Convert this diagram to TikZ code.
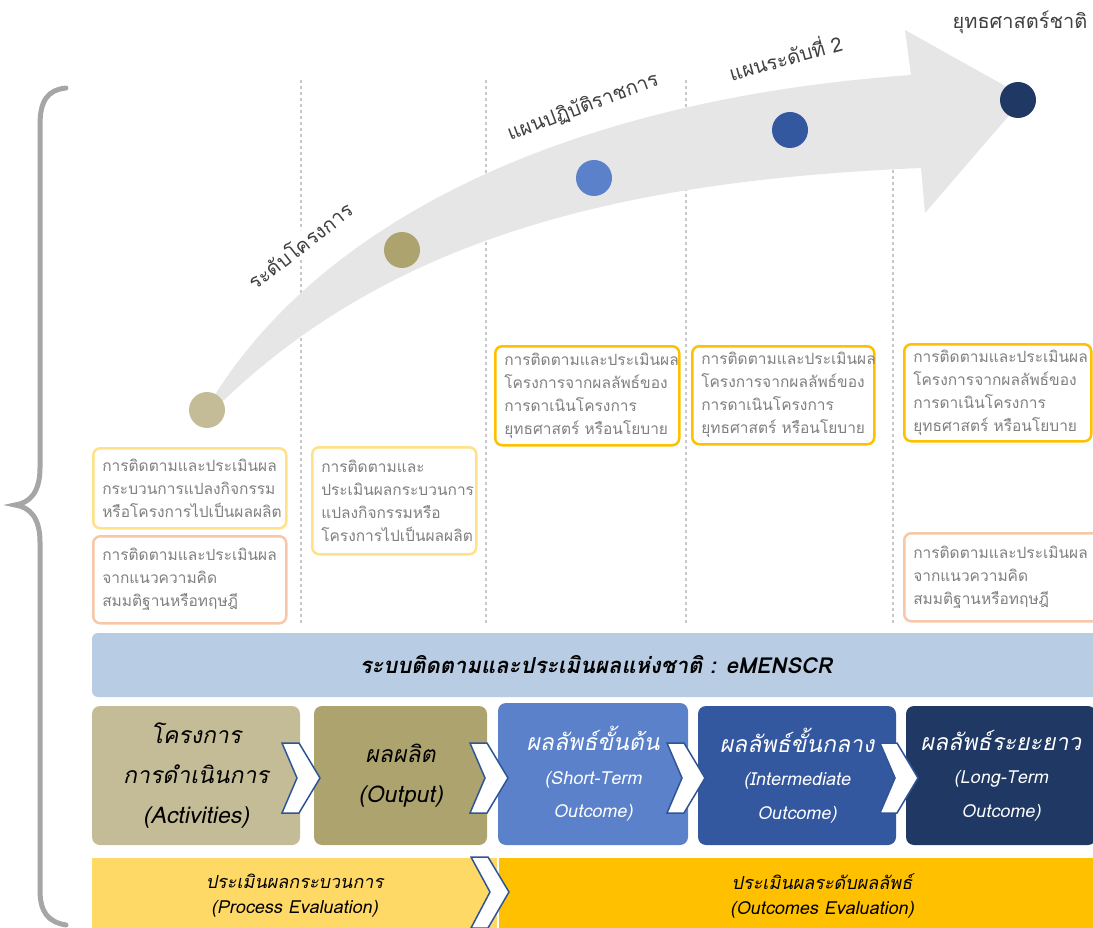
\documentclass[tikz,border=0pt]{standalone}
\usepackage{fontspec}
\newfontfamily\thaifont[Script=Thai]{Loma}
\newfontfamily\thaislant[Script=Thai,FakeSlant=0.2]{Loma}
\newcommand\engline{\fontsize{18}{22}\selectfont}

\definecolor{actkhaki}{HTML}{C4BC96}
\definecolor{outolive}{HTML}{ADA36E}
\definecolor{shortblue}{HTML}{5A81CA}
\definecolor{midblue}{HTML}{3358A0}
\definecolor{longblue}{HTML}{1F3864}
\definecolor{barblue}{HTML}{B8CCE4}
\definecolor{procyellow}{HTML}{FFD966}
\definecolor{outcyellow}{HTML}{FFC000}
\definecolor{paleyellow}{HTML}{FFE18A}
\definecolor{salmon}{HTML}{F7C7A8}
\definecolor{arrowgray}{HTML}{E6E6E6}
\definecolor{guidegray}{HTML}{C8C8C8}
\definecolor{bracegray}{HTML}{A6A6A6}
\definecolor{notegray}{HTML}{808080}
\definecolor{chevblue}{HTML}{2F5597}
\definecolor{lblgray}{HTML}{404040}

\begin{document}
\begin{tikzpicture}[x=1pt, y=-1pt,
  notebox/.style={draw, line width=2.5pt, rounded corners=7pt, fill=white, text=notegray,
    align=left, anchor=north west, inner xsep=9pt, font=\thaifont\fontsize{15.5}{23}\selectfont},
  stagebox/.style={rounded corners=8pt, minimum height=139pt, align=center,
    font=\thaislant\fontsize{23}{40}\selectfont},
  outcomebox/.style={stagebox, text=white, font=\thaislant\fontsize{23}{33.5}\selectfont},
  evalbar/.style={minimum height=76pt, align=center, font=\thaislant\fontsize{18}{25}\selectfont},
  milestone/.style={circle, minimum size=36pt, inner sep=0pt},
  levellabel/.style={fill=white, text=lblgray, inner sep=2pt, font=\thaifont\fontsize{20}{24}\selectfont},
  chev/.style={draw=chevblue, fill=white, line width=1.5pt, line join=miter}]
  \useasboundingbox (0,0) rectangle (1093,928);

  % dotted guide lines
  \foreach \gx in {301,486,686,893}
    \draw[guidegray, line width=1.5pt, dash pattern=on 3pt off 3pt] (\gx,80) -- (\gx,625);

  % big curved arrow
  \fill[arrowgray] (213,398) .. controls (320,225) and (560,100) .. (911,75) -- (905,30)
    -- (1025,97) -- (925,213) -- (921,168) .. controls (640,180) and (400,230) .. (221,403) -- cycle;

  % level labels
  \node[levellabel, rotate=38] (projlevel) at (300,245) {ระดับโครงการ};
  \node[levellabel, rotate=20.5] (planlevel) at (583,107) {แผนปฏิบัติราชการ};
  \node[levellabel, rotate=15.5] (secondlevel) at (785,56) {แผนระดับที่ 2};
  \node[levellabel, fill=none] (national) at (1020,22) {ยุทธศาสตร์ชาติ};

  % milestones
  \node[milestone, fill=actkhaki] (lvl1) at (207,410) {};
  \node[milestone, fill=outolive] (lvl2) at (402,250) {};
  \node[milestone, fill=shortblue] (lvl3) at (594,178) {};
  \node[milestone, fill=midblue] (lvl4) at (790,130) {};
  \node[milestone, fill=longblue] (lvl5) at (1018,100) {};

  % monitoring notes
  \node[notebox, draw=paleyellow, text width=175pt, minimum height=80pt] (procnote) at (92,447)
    {การติดตามและประเมินผล\\กระบวนการแปลงกิจกรรม\\หรือโครงการไปเป็นผลผลิต};
  \node[notebox, draw=salmon, text width=175pt, minimum height=87pt] (theorynote) at (92,535)
    {การติดตามและประเมินผล\\จากแนวความคิด\\สมมติฐานหรือทฤษฎี};
  \node[notebox, draw=paleyellow, text width=146pt, minimum height=107pt] (outputnote) at (311,446)
    {การติดตามและ\\ประเมินผลกระบวนการ\\แปลงกิจกรรมหรือ\\โครงการไปเป็นผลผลิต};
  \node[notebox, draw=outcyellow, text width=166pt, minimum height=99pt] (shortnote) at (494,345)
    {การติดตามและประเมินผล\\โครงการจากผลลัพธ์ของ\\การดาเนินโครงการ\\ยุทธศาสตร์ หรือนโยบาย};
  \node[notebox, draw=outcyellow, text width=164pt, minimum height=98pt] (midnote) at (691,345)
    {การติดตามและประเมินผล\\โครงการจากผลลัพธ์ของ\\การดาเนินโครงการ\\ยุทธศาสตร์ หรือนโยบาย};
  \node[notebox, draw=outcyellow, text width=169pt, minimum height=97pt] (longnote) at (903,343)
    {การติดตามและประเมินผล\\โครงการจากผลลัพธ์ของ\\การดาเนินโครงการ\\ยุทธศาสตร์ หรือนโยบาย};
  \node[notebox, draw=salmon, text width=178pt, minimum height=88pt] (theorynote2) at (903,532)
    {การติดตามและประเมินผล\\จากแนวความคิด\\สมมติฐานหรือทฤษฎี};

  % national system bar
  \node[fill=barblue, rounded corners=6pt, minimum width=1008pt, minimum height=64pt,
    font=\thaislant\bfseries\fontsize{22}{26}\selectfont] (emenscr) at (596,665)
    {ระบบติดตามและประเมินผลแห่งชาติ : eMENSCR};

  % result chain
  \node[stagebox, fill=actkhaki, minimum width=208pt] (activities) at (196,775.5)
    {โครงการ\\การดำเนินการ\\(Activities)};
  \node[stagebox, fill=outolive, minimum width=173pt] (output) at (400.5,775.5)
    {ผลผลิต\\(Output)};
  \node[outcomebox, fill=shortblue, minimum width=190pt, minimum height=142pt] (shortterm) at (593,774)
    {ผลลัพธ์ขั้นต้น\\{\engline(Short-Term}\\{\engline Outcome)}};
  \node[outcomebox, fill=midblue, minimum width=198pt] (midterm) at (797,775.5)
    {ผลลัพธ์ขั้นกลาง\\{\engline(Intermediate}\\{\engline Outcome)}};
  \node[outcomebox, fill=longblue, minimum width=190pt] (longterm) at (1001,775.5)
    {ผลลัพธ์ระยะยาว\\{\engline(Long-Term}\\{\engline Outcome)}};
  \foreach \cx in {282,470,667,880}
    \draw[chev] (\cx,743) -- ++(17,0) -- ++(21,35) -- ++(-21,35) -- ++(-17,0) -- ++(15,-35) -- cycle;

  % evaluation bars
  \node[evalbar, fill=procyellow, minimum width=405pt] (procevalbar) at (294.5,896)
    {ประเมินผลกระบวนการ\\(Process Evaluation)};
  \node[evalbar, fill=outcyellow, minimum width=646pt] (outcevalbar) at (822,896)
    {ประเมินผลระดับผลลัพธ์\\(Outcomes Evaluation)};
  \draw[chev] (471,857) -- ++(17,0) -- ++(21,35) -- ++(-21,36) -- ++(-17,0) -- ++(19,-36) -- cycle;

  % left brace
  \draw[bracegray, line width=5pt, line cap=round] (66,88) .. controls (48,90) and (40,100) .. (40,125)
    -- (40,468) .. controls (40,492) and (30,503) .. (15,505) .. controls (30,507) and (40,518) .. (40,542)
    -- (40,890) .. controls (40,912) and (48,922) .. (66,925);
\end{tikzpicture}
\end{document}
